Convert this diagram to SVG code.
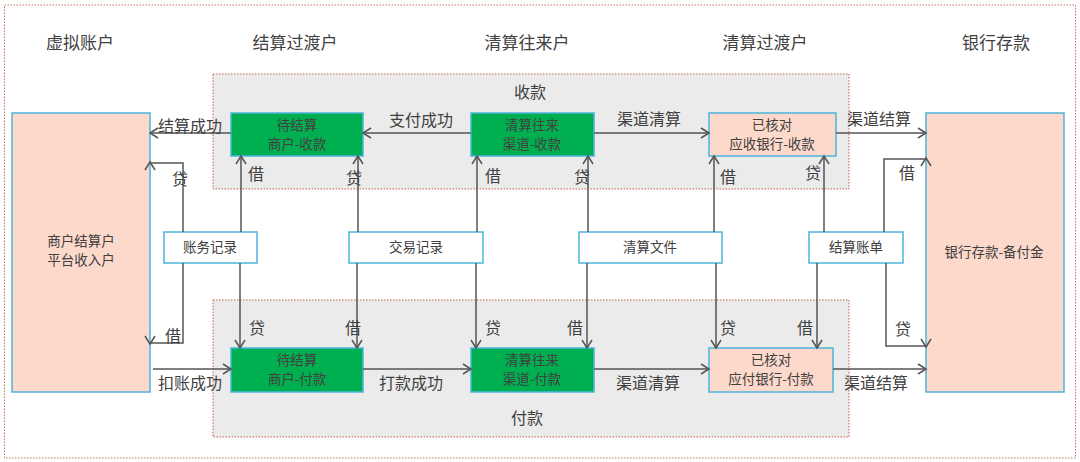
<svg xmlns="http://www.w3.org/2000/svg" width="1080" height="462" viewBox="0 0 1080 462">
<style>
text{font-family:"Noto Sans CJK SC","Liberation Sans",sans-serif;fill:#404040;text-anchor:middle}
.hd{font-size:17px}
.bx{font-size:13.5px}
.lb{font-size:16px}
.green{fill:#00b050;stroke:#4bb4dc;stroke-width:1.5}
.peach{fill:#fdd9cc;stroke:#4bb4dc;stroke-width:1.5}
.white{fill:#ffffff;stroke:#4bb4dc;stroke-width:1.5}
.grp{fill:#ebebeb;stroke:#c0604d;stroke-width:1;stroke-dasharray:1.5 1.5}
.ln{fill:none;stroke:#555;stroke-width:1.5;marker-end:url(#ah)}
</style>
<defs>
<marker id="ah" viewBox="-10 -6 12 12" refX="0" refY="0" markerWidth="12" markerHeight="12" markerUnits="userSpaceOnUse" orient="auto">
<path d="M-8,-5 L0,0 L-8,5" fill="none" stroke="#555" stroke-width="1.5"/>
</marker>
</defs>
<rect width="1080" height="462" fill="#ffffff"/>
<rect x="4.5" y="5" width="1071" height="453" fill="none" stroke="#c87060" stroke-width="1" stroke-dasharray="1.5 1.5"/>

<g id="headers">
<text class="hd" x="80" y="49">虚拟账户</text>
<text class="hd" x="295" y="49">结算过渡户</text>
<text class="hd" x="527" y="49">清算往来户</text>
<text class="hd" x="765" y="49">清算过渡户</text>
<text class="hd" x="996" y="49">银行存款</text>
</g>

<g id="group-shoukuan">
<rect class="grp" x="213" y="74" width="636" height="115"/>
<text class="lb" x="530" y="98">收款</text>
</g>
<g id="group-fukuan">
<rect class="grp" x="213" y="300" width="636" height="137"/>
<text class="lb" x="527" y="424">付款</text>
</g>

<g id="merchant-account">
<rect class="peach" x="12" y="113" width="138" height="279"/>
<text class="bx" x="81" y="246">商户结算户</text>
<text class="bx" x="81" y="265">平台收入户</text>
</g>
<g id="bank-reserve">
<rect class="peach" x="926" y="113" width="138" height="279"/>
<text class="bx" x="994" y="257">银行存款-备付金</text>
</g>

<g id="pending-settle-receive">
<rect class="green" x="231" y="113" width="132" height="43"/>
<text class="bx" x="297" y="130">待结算</text>
<text class="bx" x="297" y="149">商户-收款</text>
</g>
<g id="clearing-channel-receive">
<rect class="green" x="471" y="113" width="123" height="43"/>
<text class="bx" x="532" y="130">清算往来</text>
<text class="bx" x="532" y="149">渠道-收款</text>
</g>
<g id="verified-bank-receive">
<rect class="peach" x="709" y="113" width="127" height="43"/>
<text class="bx" x="772" y="130">已核对</text>
<text class="bx" x="772" y="149">应收银行-收款</text>
</g>

<g id="pending-settle-pay">
<rect class="green" x="231" y="348" width="132" height="44"/>
<text class="bx" x="297" y="365">待结算</text>
<text class="bx" x="297" y="384">商户-付款</text>
</g>
<g id="clearing-channel-pay">
<rect class="green" x="471" y="348" width="123" height="44"/>
<text class="bx" x="532" y="365">清算往来</text>
<text class="bx" x="532" y="384">渠道-付款</text>
</g>
<g id="verified-bank-pay">
<rect class="peach" x="709" y="348" width="124" height="44"/>
<text class="bx" x="771" y="365">已核对</text>
<text class="bx" x="771" y="384">应付银行-付款</text>
</g>

<g id="accounting-record">
<rect class="white" x="164" y="232" width="93" height="31"/>
<text class="bx" x="210" y="252">账务记录</text>
</g>
<g id="transaction-record">
<rect class="white" x="349" y="232" width="134" height="31"/>
<text class="bx" x="416" y="252">交易记录</text>
</g>
<g id="clearing-file">
<rect class="white" x="579" y="232" width="143" height="31"/>
<text class="bx" x="650" y="252">清算文件</text>
</g>
<g id="settlement-bill">
<rect class="white" x="809" y="232" width="94" height="31"/>
<text class="bx" x="856" y="252">结算账单</text>
</g>

<g id="connectors">
<path class="ln" d="M231,133 H150"/>
<path class="ln" d="M471,133 H363"/>
<path class="ln" d="M594,133 H709"/>
<path class="ln" d="M836,133 H926"/>
<path class="ln" d="M153,369 H231"/>
<path class="ln" d="M363,369 H471"/>
<path class="ln" d="M594,369 H709"/>
<path class="ln" d="M833,369 H926"/>
<path class="ln" d="M183,232 V163 H150 V162"/>
<path class="ln" d="M241,232 V156"/>
<path class="ln" d="M183,263 V343 H150 V344"/>
<path class="ln" d="M240,263 V348"/>
<path class="ln" d="M358,232 V156"/>
<path class="ln" d="M477,232 V156"/>
<path class="ln" d="M357,263 V348"/>
<path class="ln" d="M476,263 V348"/>
<path class="ln" d="M588,232 V156"/>
<path class="ln" d="M714,232 V156"/>
<path class="ln" d="M587,263 V348"/>
<path class="ln" d="M716,263 V348"/>
<path class="ln" d="M824,232 V156"/>
<path class="ln" d="M884,232 V159 H926 V158"/>
<path class="ln" d="M817,263 V348"/>
<path class="ln" d="M886,263 V346 H926 V347"/>

<text class="lb" x="190" y="132">结算成功</text>
<text class="lb" x="421" y="126">支付成功</text>
<text class="lb" x="649" y="125">渠道清算</text>
<text class="lb" x="879" y="125">渠道结算</text>
<text class="lb" x="190" y="389">扣账成功</text>
<text class="lb" x="411" y="389">打款成功</text>
<text class="lb" x="648" y="389">渠道清算</text>
<text class="lb" x="876" y="389">渠道结算</text>

<text class="lb" x="180" y="185">贷</text>
<text class="lb" x="256" y="180">借</text>
<text class="lb" x="354" y="184">贷</text>
<text class="lb" x="493" y="182">借</text>
<text class="lb" x="582" y="183">贷</text>
<text class="lb" x="728" y="183">借</text>
<text class="lb" x="813" y="179">贷</text>
<text class="lb" x="907" y="179">借</text>

<text class="lb" x="173" y="342">借</text>
<text class="lb" x="257" y="334">贷</text>
<text class="lb" x="353" y="334">借</text>
<text class="lb" x="493" y="334">贷</text>
<text class="lb" x="575" y="334">借</text>
<text class="lb" x="728" y="334">贷</text>
<text class="lb" x="805" y="334">借</text>
<text class="lb" x="903" y="335">贷</text>
</g>
</svg>
